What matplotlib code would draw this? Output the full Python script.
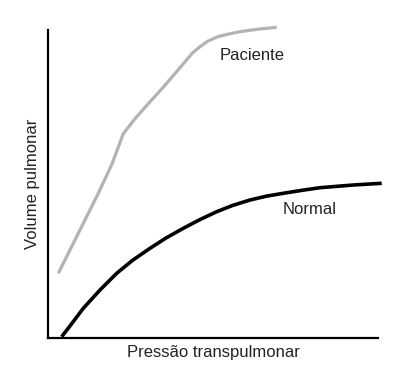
import matplotlib
matplotlib.use("Agg")
import matplotlib.pyplot as plt

# Values (arbitrary units)
paciente_x = [10.6, 30.6, 50.6, 64, 75.6, 87.3, 100.6, 116, 132.3, 145, 152.3, 160, 170, 180, 192.3, 210, 229]
paciente_y = [64.4, 104.4, 144.4, 173, 204, 219, 234, 251, 270, 285, 291, 296.5, 301, 303.5, 306, 308.5, 310.4]

normal_x = [14, 24, 35.6, 52.3, 69, 85, 102.3, 118, 135.6, 152, 169, 185, 202.3, 219, 235.6, 255, 272.3, 305.6, 334]
normal_y = [1, 14, 29.4, 47.7, 64.4, 77.5, 89.4, 99.5, 109.4, 118, 126, 132.3, 137.7, 141.6, 144.4, 147.5, 150, 152.7, 154.4]

xlabel = "Pressão transpulmonar"
ylabel = "Volume pulmonar"

plt.rcParams['font.family'] = ['Liberation Sans', 'DejaVu Sans']

fig = plt.figure(figsize=(4.1, 3.8), dpi=100)
ax = fig.add_axes([47.7/410, 1-337.7/380, (378-47.7)/410, (337.7-30)/380])

ax.plot(paciente_x, paciente_y, color="#b3b3b3", lw=2.3, solid_capstyle="butt",
        solid_joinstyle="round", clip_on=False)
ax.plot(normal_x, normal_y, color="black", lw=2.6, solid_capstyle="butt",
        solid_joinstyle="round", clip_on=False)

ax.set_xlim(0, 330.3)
ax.set_ylim(0, 307.7)
for s in ["top", "right"]:
    ax.spines[s].set_visible(False)
for s in ["left", "bottom"]:
    ax.spines[s].set_linewidth(1.6)
ax.set_xticks([])
ax.set_yticks([])

ax.text(204, 282, "Paciente", fontsize=12, color="#222222", ha="center", va="center")
ax.text(262, 128, "Normal", fontsize=12, color="#222222", ha="center", va="center")

fig.text(213/410, 1-353/380, xlabel, fontsize=12, color="#222222", ha="center", va="center")
fig.text(33/410, 1-184/380, ylabel, fontsize=12, color="#222222", ha="center", va="center", rotation=90)

fig.savefig("out.png", dpi=100)
